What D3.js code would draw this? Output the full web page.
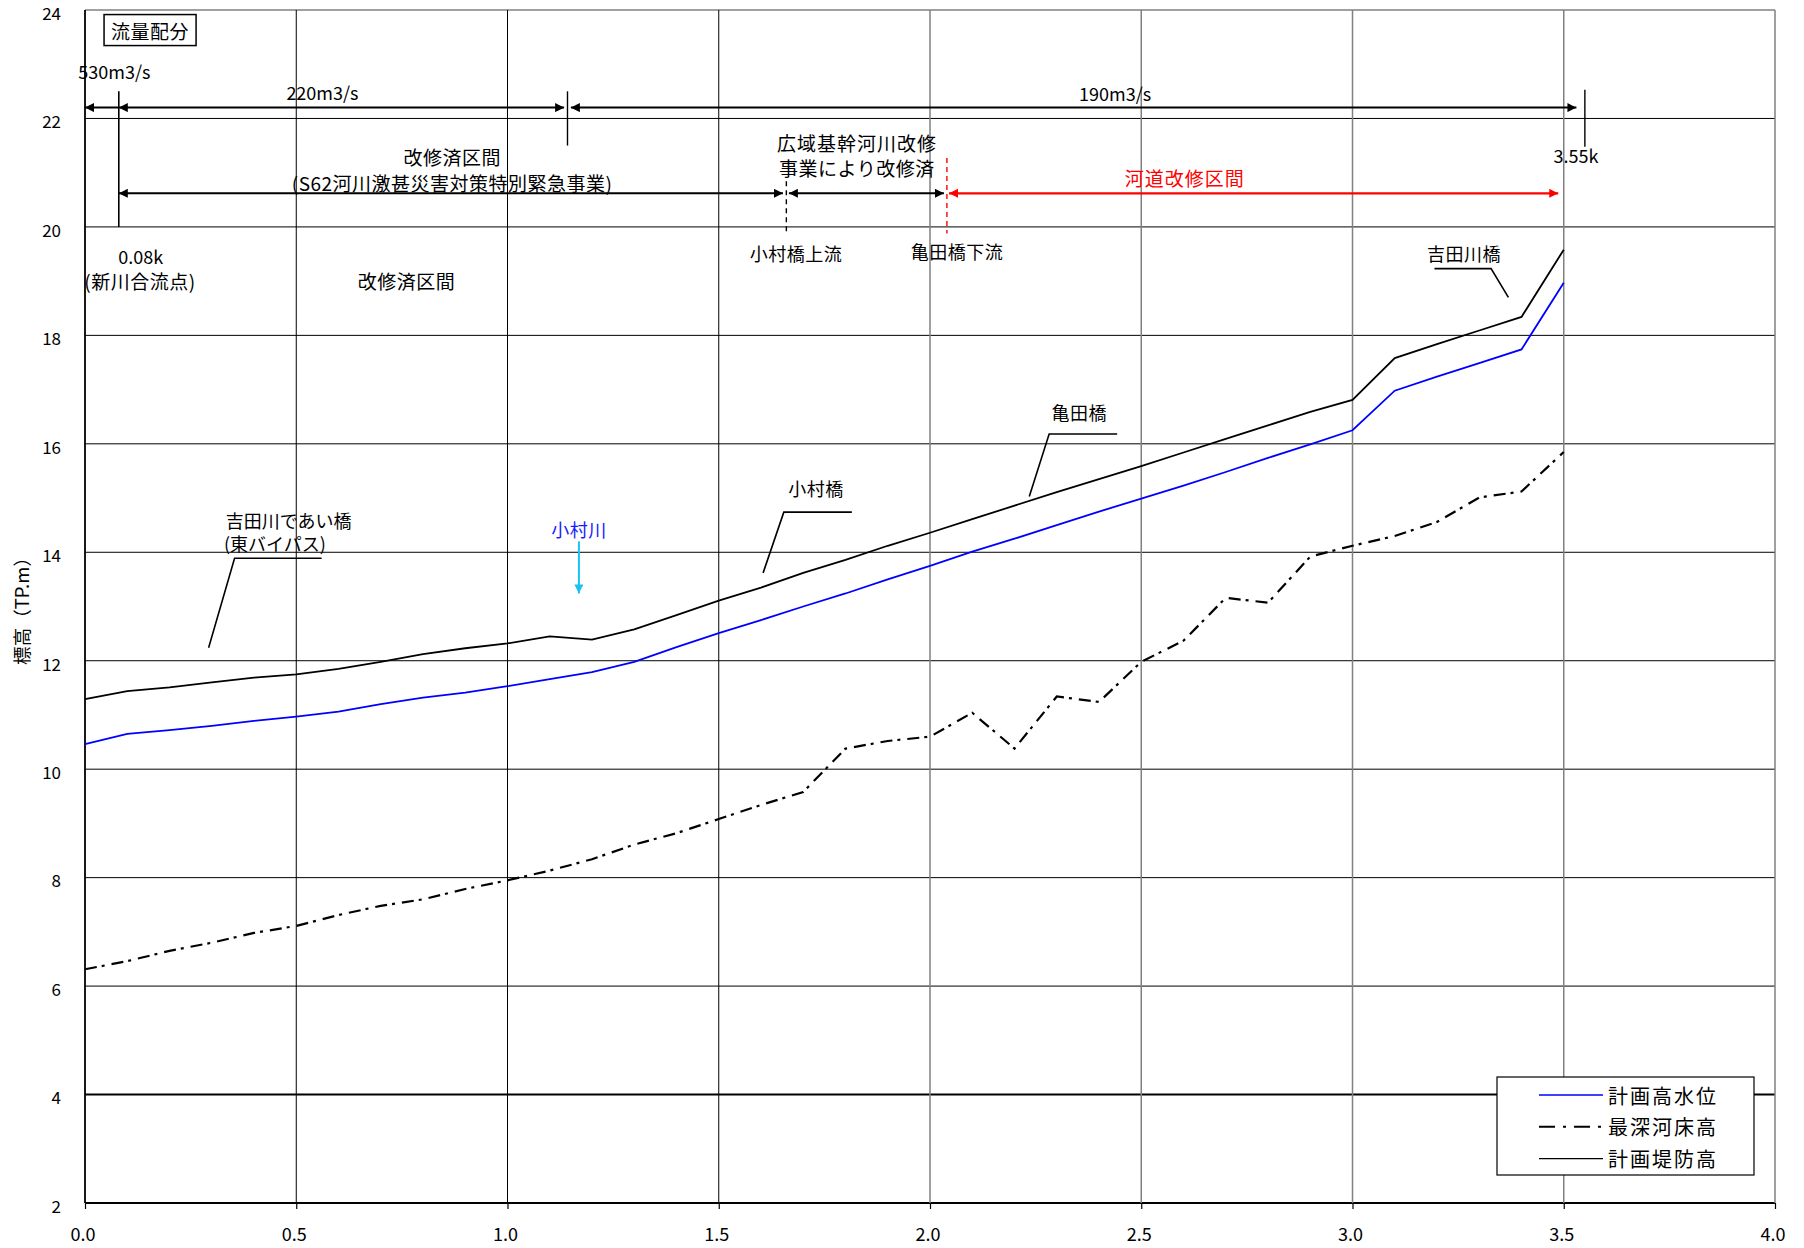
<!DOCTYPE html>
<html>
<head>
<meta charset="utf-8">
<script src="https://cdn.jsdelivr.net/npm/d3@7"></script>
<style>
  body { margin: 0; background: #fff; }
  svg { display: block; font-family: "Noto Sans CJK JP", "Noto Sans", sans-serif; }
</style>
</head>
<body>
<svg id="chart" width="1804" height="1248"></svg>
<script>
// 距離標 (km)
const distanceKm = [0.0, 0.1, 0.2, 0.3, 0.4, 0.5, 0.6, 0.7, 0.8, 0.9,
                    1.0, 1.1, 1.2, 1.3, 1.4, 1.5, 1.6, 1.7, 1.8, 1.9,
                    2.0, 2.1, 2.2, 2.3, 2.4, 2.5, 2.6, 2.7, 2.8, 2.9,
                    3.0, 3.1, 3.2, 3.3, 3.4, 3.5];

// 計画堤防高 (TP.m)
const plannedLevee = [11.29, 11.44, 11.51, 11.60, 11.69, 11.75, 11.85, 11.98, 12.12, 12.23,
                      12.32, 12.45, 12.39, 12.58, 12.84, 13.11, 13.35, 13.62, 13.86, 14.12,
                      14.36, 14.61, 14.86, 15.11, 15.35, 15.59, 15.84, 16.09, 16.34, 16.59,
                      16.81, 17.58, 17.84, 18.09, 18.34, 19.58];

// 計画高水位 (TP.m)
const plannedHWL = [10.46, 10.65, 10.72, 10.80, 10.89, 10.97, 11.06, 11.20, 11.32, 11.41,
                    11.53, 11.66, 11.79, 11.98, 12.25, 12.51, 12.75, 13.00, 13.24, 13.50,
                    13.75, 14.01, 14.25, 14.50, 14.75, 14.99, 15.23, 15.48, 15.74, 15.99,
                    16.25, 16.98, 17.24, 17.49, 17.74, 18.97];

// 最深河床高 (TP.m)
const deepestBed = [6.31, 6.46, 6.65, 6.80, 6.98, 7.11, 7.31, 7.48, 7.60, 7.79,
                    7.95, 8.13, 8.34, 8.61, 8.82, 9.08, 9.34, 9.58, 10.38, 10.52,
                    10.60, 11.04, 10.38, 11.34, 11.24, 11.98, 12.37, 13.16, 13.07, 13.92,
                    14.12, 14.30, 14.56, 15.01, 15.12, 15.85];

const xTicks = [0, 0.5, 1.0, 1.5, 2.0, 2.5, 3.0, 3.5, 4.0];
const yTicks = [2, 4, 6, 8, 10, 12, 14, 16, 18, 20, 22, 24];
const seriesNames = ["計画高水位", "最深河床高", "計画堤防高"];

const svg = d3.select("#chart");
const x = d3.scaleLinear().domain([0, 4]).range([85, 1775]);
const y = d3.scaleLinear().domain([2, 24]).range([1203, 10]);

const BLUE = "#0000ff", RED = "#ff0000", GRAY = "#808080";

// ---- grid ----
const grid = svg.append("g");
grid.selectAll("line.h").data(yTicks).join("line")
  .attr("x1", x(0)).attr("x2", x(4))
  .attr("y1", d => y(d)).attr("y2", d => y(d))
  .attr("stroke", d => d === 24 ? GRAY : "#000")
  .attr("stroke-width", d => (d === 4 || d === 2) ? 2 : (d === 24 ? 1.5 : 1));
grid.selectAll("line.v").data(xTicks).join("line")
  .attr("x1", d => x(d)).attr("x2", d => x(d))
  .attr("y1", y(24)).attr("y2", y(2))
  .attr("stroke", d => d >= 2 ? GRAY : "#000")
  .attr("stroke-width", d => d === 0 ? 1.8 : (d >= 2 ? 1.5 : 1));

// ---- axes ----
const yAxis = svg.append("g").attr("transform", `translate(${x(0)},0)`)
  .call(d3.axisLeft(y).tickValues(yTicks).tickSize(0).tickPadding(24));
yAxis.select(".domain").remove();
yAxis.selectAll("text").attr("font-size", 17).attr("fill", "#000")
  .attr("font-family", "'Noto Sans CJK JP', sans-serif").attr("dy", "0.55em");

const xAxis = svg.append("g").attr("transform", `translate(0,${y(2)})`)
  .call(d3.axisBottom(x).tickValues(xTicks).tickFormat(d3.format(".1f")).tickSize(6).tickSizeOuter(0));
xAxis.select(".domain").remove();
xAxis.selectAll("line").attr("stroke", "#000").attr("stroke-width", 1.2);
xAxis.selectAll("text").attr("font-size", 18).attr("fill", "#000")
  .attr("font-family", "'Noto Sans CJK JP', sans-serif")
  .attr("y", 32).attr("dy", "0.35em").attr("dx", -2.5);

svg.append("text")
  .attr("transform", `translate(21,${(y(2) + y(24)) / 2}) rotate(-90)`)
  .attr("text-anchor", "middle").attr("dominant-baseline", "central")
  .attr("font-size", 18.5).text("標高（TP.m）");

// ---- arrow markers ----
const defs = svg.append("defs");
function marker(id, color) {
  defs.append("marker").attr("id", id)
    .attr("viewBox", "0 0 10 10").attr("refX", 10).attr("refY", 5)
    .attr("markerWidth", 9).attr("markerHeight", 9)
    .attr("markerUnits", "userSpaceOnUse").attr("orient", "auto-start-reverse")
    .append("path").attr("d", "M0,0 L10,5 L0,10 Z").attr("fill", color);
}
marker("arrK", "#000");
marker("arrR", RED);
marker("arrC", "#19c3f0");

// ---- series ----
const rows = distanceKm.map((k, i) => ({ k, levee: plannedLevee[i], hwl: plannedHWL[i], bed: deepestBed[i] }));
const lineOf = key => d3.line().x(d => x(d.k)).y(d => y(d[key]));
const plot = svg.append("g");
plot.append("path").datum(rows).attr("d", lineOf("bed"))
  .attr("fill", "none").attr("stroke", "#000").attr("stroke-width", 2.2)
  .attr("stroke-dasharray", "12,5,3,7");
plot.append("path").datum(rows).attr("d", lineOf("levee"))
  .attr("fill", "none").attr("stroke", "#000").attr("stroke-width", 1.8);
plot.append("path").datum(rows).attr("d", lineOf("hwl"))
  .attr("fill", "none").attr("stroke", BLUE).attr("stroke-width", 1.8);

// ---- annotations ----
const ann = svg.append("g");
function seg(k1, v1, k2, v2, opt = {}) {
  const l = ann.append("line")
    .attr("x1", x(k1)).attr("y1", y(v1)).attr("x2", x(k2)).attr("y2", y(v2))
    .attr("stroke", opt.color || "#000").attr("stroke-width", opt.w || 1.5);
  if (opt.dash) l.attr("stroke-dasharray", opt.dash);
  if (opt.start) l.attr("marker-start", `url(#${opt.start})`);
  if (opt.end) l.attr("marker-end", `url(#${opt.end})`);
  return l;
}
function label(k, v, s, opt = {}) {
  return ann.append("text").attr("x", x(k)).attr("y", y(v))
    .attr("text-anchor", opt.anchor || "middle").attr("dominant-baseline", "central")
    .attr("font-size", opt.size || 19).attr("fill", opt.color || "#000")
    .attr("letter-spacing", opt.ls != null ? opt.ls : 0.5)
    .text(s);
}
function leader(pts) {
  ann.append("path")
    .attr("d", d3.line().x(p => x(p[0])).y(p => y(p[1]))(pts))
    .attr("fill", "none").attr("stroke", "#000").attr("stroke-width", 1.6);
}

// 流量配分 box
const tFlow = label(0.154, 23.63, "流量配分", { size: 19 });
const bb = tFlow.node().getBBox();
ann.insert("rect", "text")
  .attr("x", bb.x - 7).attr("y", bb.y - 2).attr("width", bb.width + 14).attr("height", bb.height + 4)
  .attr("fill", "#fff").attr("stroke", "#000").attr("stroke-width", 1.5);

// flow allocation arrows
seg(0, 22.2, 0.08, 22.2, { w: 2, start: "arrK" });
seg(0.08, 22.2, 1.134, 22.2, { w: 2, start: "arrK", end: "arrK" });
seg(1.150, 22.2, 3.53, 22.2, { w: 2, start: "arrK", end: "arrK" });
seg(0.08, 22.5, 0.08, 20.0, { w: 1.6 });
seg(1.142, 22.5, 1.142, 21.5, { w: 1.4 });
seg(3.55, 22.53, 3.55, 21.48, { w: 1.4 });
label(0.0696, 22.88, "530m3/s", { size: 18, ls: 0 });
label(0.562, 22.48, "220m3/s", { size: 18, ls: 0 });
label(2.438, 22.47, "190m3/s", { size: 18, ls: 0 });
label(3.529, 21.33, "3.55k", { size: 18, ls: 0 });

// improvement section arrows
seg(0.08, 20.62, 1.652, 20.62, { w: 2, start: "arrK", end: "arrK" });
seg(1.666, 20.62, 2.033, 20.62, { w: 2, start: "arrK", end: "arrK" });
seg(2.045, 20.62, 3.487, 20.62, { w: 2.2, color: RED, start: "arrR", end: "arrR" });
seg(1.66, 20.84, 1.66, 19.88, { w: 1.4, dash: "5,4" });
seg(2.04, 21.27, 2.04, 19.88, { w: 1.4, dash: "5,4", color: RED });

label(0.869, 21.30, "改修済区間");
label(0.869, 20.81, "(S62河川激甚災害対策特別緊急事業)");
label(1.827, 21.56, "広域基幹河川改修", { ls: 1 });
label(1.827, 21.10, "事業により改修済", { ls: 0.5 });
label(2.603, 20.92, "河道改修区間", { color: RED, ls: 1 });
label(1.683, 19.52, "小村橋上流", { size: 18 });
label(2.064, 19.56, "亀田橋下流", { size: 18 });
label(0.132, 19.47, "0.08k", { size: 18, ls: 0 });
label(0.130, 19.01, "(新川合流点)");
label(0.761, 19.01, "改修済区間");

// bridges
label(0.333, 14.60, "吉田川であい橋", { size: 18, anchor: "start", ls: 0 });
label(0.329, 14.17, "(東バイパス)", { size: 18, anchor: "start", ls: 0 });
leader([[0.2926, 12.24], [0.354, 13.89], [0.560, 13.89]]);

label(1.730, 15.18, "小村橋", { size: 18 });
leader([[1.605, 13.62], [1.654, 14.74], [1.815, 14.74]]);

label(2.353, 16.59, "亀田橋", { size: 18 });
leader([[2.235, 15.03], [2.282, 16.18], [2.443, 16.18]]);

label(3.264, 19.52, "吉田川橋", { size: 18 });
leader([[3.369, 18.70], [3.328, 19.23], [3.194, 19.23]]);

// tributary inflow
label(1.169, 14.43, "小村川", { size: 18, color: "#1a1aff", ls: 0.5 });
seg(1.169, 14.20, 1.169, 13.24, { w: 2, color: "#19c3f0", end: "arrC" });

// ---- legend ----
const lg = svg.append("g").attr("transform", "translate(1497,1077)");
lg.append("rect").attr("width", 257).attr("height", 98)
  .attr("fill", "#fff").attr("stroke", "#000").attr("stroke-width", 1.2);
const legendStyles = [
  { color: BLUE, w: 1.4, dash: null },
  { color: "#000", w: 2, dash: "16,8,3,8" },
  { color: "#000", w: 1.4, dash: null }
];
seriesNames.forEach((name, i) => {
  const yy = 18 + i * 31.8;
  const ln = lg.append("line").attr("x1", 42).attr("x2", 106).attr("y1", yy).attr("y2", yy)
    .attr("stroke", legendStyles[i].color).attr("stroke-width", legendStyles[i].w);
  if (legendStyles[i].dash) ln.attr("stroke-dasharray", legendStyles[i].dash);
  lg.append("text").attr("x", 111).attr("y", yy).attr("dominant-baseline", "central")
    .attr("font-size", 20).attr("letter-spacing", 2).text(name);
});
</script>
</body>
</html>
